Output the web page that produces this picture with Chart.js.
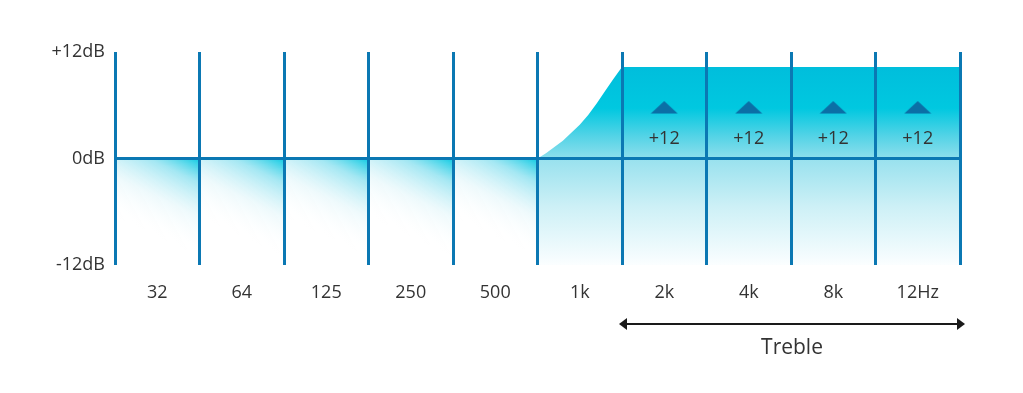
<!DOCTYPE html>
<html>
<head>
<meta charset="utf-8">
<script src="https://cdn.jsdelivr.net/npm/chart.js@4.4.1/dist/chart.umd.min.js"></script>
<style>
    html, body { margin: 0; background: #fff; }
    #wrap { width: 1023px; height: 393px; }
</style>
</head>
<body>
<div id="wrap"><canvas id="eqChart"></canvas></div>
<script>
const bands = ['32', '64', '125', '250', '500', '1k', '2k', '4k', '8k', '12Hz'];
const yTicks = [-12, 0, 12];
const yTickLabels = ['-12dB', '0dB', '+12dB'];

// response curve, x in band units (0 = left edge of "32", 10 = right edge of "12Hz")
const curveX = [0, 1, 2, 3, 4, 5, 5.1, 5.2, 5.3, 5.4, 5.5, 5.6, 5.7, 5.8, 5.9, 6, 7, 8, 9, 10];
const curveY = [0, 0, 0, 0, 0, 0, 0.6, 1.3, 2.0, 2.9, 3.8, 4.9, 6.2, 7.6, 9.0, 10.3, 10.3, 10.3, 10.3, 10.3];

// lower shading per band
const lowerRange = [[-12, 0], [-12, 0], [-12, 0], [-12, 0], [-12, 0], [-12, 0], [-12, 0], [-12, 0], [-12, 0], [-12, 0]];

// boost markers
const boostBands = ['2k', '4k', '8k', '12Hz'];
const boostLevel = 5.8;
const boostLabels = ['+12', '+12', '+12', '+12'];
const boostLabelLevel = 2.3;

const trebleFrom = '2k';
const trebleTo = '12Hz';
const trebleLabel = 'Treble';

const lineColor = '#0b78b3';
const textColor = '#333333';
const fontFamily = '"Open Sans", "Noto Sans", sans-serif';

const triangle = document.createElement('canvas');
triangle.width = 28;
triangle.height = 14;
const tctx = triangle.getContext('2d');
tctx.fillStyle = '#0b6fa6';
tctx.beginPath();
tctx.moveTo(14, 1);
tctx.lineTo(27.5, 13.5);
tctx.lineTo(0.5, 13.5);
tctx.closePath();
tctx.fill();

const plateau = Math.max(...curveY);

const upperFill = (context) => {
    const chart = context.chart;
    if (!chart.chartArea) return null;
    const y = chart.scales.y;
    const g = chart.ctx.createLinearGradient(0, y.getPixelForValue(plateau), 0, y.getPixelForValue(0));
    g.addColorStop(0, '#00bedc');
    g.addColorStop(0.45, '#00c8e0');
    g.addColorStop(0.75, '#52d3e6');
    g.addColorStop(1, '#8edfec');
    return g;
};

const lowerFill = (context) => {
    const chart = context.chart;
    if (!chart.chartArea) return null;
    const x = chart.scales.x;
    const y = chart.scales.y;
    const i = context.dataIndex;
    const half = (x.getPixelForValue(1) - x.getPixelForValue(0)) / 2;
    const left = x.getPixelForValue(i) - half;
    const right = x.getPixelForValue(i) + half;
    const top = y.getPixelForValue(0);
    const bottom = y.getPixelForValue(-12);
    let g;
    if (i < bands.indexOf('1k')) {
        g = chart.ctx.createLinearGradient(right, top, right - (right - left) * 0.45, top + (bottom - top) * 0.75);
        g.addColorStop(0, 'rgba(0,200,226,0.95)');
        g.addColorStop(0.25, 'rgba(90,212,233,0.55)');
        g.addColorStop(0.6, 'rgba(200,238,245,0.3)');
        g.addColorStop(1, 'rgba(255,255,255,0)');
    } else {
        g = chart.ctx.createLinearGradient(0, top, 0, bottom);
        g.addColorStop(0, '#98e1ee');
        g.addColorStop(0.45, '#cdf0f6');
        g.addColorStop(1, '#fbfeff');
    }
    return g;
};

const boostText = {
    id: 'boostText',
    afterDatasetsDraw(chart) {
        const ctx = chart.ctx;
        const meta = chart.getDatasetMeta(2);
        const yPx = chart.scales.y.getPixelForValue(boostLabelLevel);
        ctx.save();
        ctx.font = '18px ' + fontFamily;
        ctx.fillStyle = textColor;
        ctx.textAlign = 'center';
        ctx.textBaseline = 'middle';
        meta.data.forEach((pt, i) => ctx.fillText(boostLabels[i], pt.x, yPx + 1));
        ctx.restore();
    }
};

const trebleArrow = {
    id: 'trebleArrow',
    afterDraw(chart) {
        const ctx = chart.ctx;
        const x = chart.scales.x;
        const half = (x.getPixelForValue(1) - x.getPixelForValue(0)) / 2;
        const x0 = x.getPixelForValue(bands.indexOf(trebleFrom)) - half - 3;
        const x1 = x.getPixelForValue(bands.indexOf(trebleTo)) + half + 5;
        const yA = chart.chartArea.bottom + 59;
        ctx.save();
        ctx.strokeStyle = '#1a1a1a';
        ctx.fillStyle = '#1a1a1a';
        ctx.lineWidth = 2;
        ctx.beginPath();
        ctx.moveTo(x0 + 4, yA);
        ctx.lineTo(x1 - 4, yA);
        ctx.stroke();
        ctx.beginPath();
        ctx.moveTo(x0, yA);
        ctx.lineTo(x0 + 8, yA - 6);
        ctx.lineTo(x0 + 8, yA + 6);
        ctx.closePath();
        ctx.fill();
        ctx.beginPath();
        ctx.moveTo(x1, yA);
        ctx.lineTo(x1 - 8, yA - 6);
        ctx.lineTo(x1 - 8, yA + 6);
        ctx.closePath();
        ctx.fill();
        ctx.font = '21px ' + fontFamily;
        ctx.fillStyle = textColor;
        ctx.textAlign = 'center';
        ctx.textBaseline = 'middle';
        ctx.fillText(trebleLabel, (x0 + x1) / 2, yA + 24);
        ctx.restore();
    }
};

new Chart(document.getElementById('eqChart'), {
    type: 'bar',
    data: {
        labels: bands,
        datasets: [
            {
                type: 'line',
                xAxisID: 'xd',
                data: curveX.map((v, i) => ({ x: v, y: curveY[i] })),
                borderWidth: 0,
                borderColor: 'transparent',
                pointRadius: 0,
                tension: 0,
                fill: 'origin',
                backgroundColor: upperFill,
                order: 1
            },
            {
                data: lowerRange,
                backgroundColor: lowerFill,
                borderWidth: 0,
                barPercentage: 1,
                categoryPercentage: 1,
                grouped: false,
                order: 2
            },
            {
                type: 'line',
                data: boostBands.map(b => ({ x: b, y: boostLevel })),
                showLine: false,
                pointStyle: triangle,
                pointRadius: 10,
                order: 0
            }
        ]
    },
    options: {
        responsive: true,
        maintainAspectRatio: false,
        animation: false,
        layout: { padding: { left: 0, top: 52, right: 63, bottom: 0 } },
        plugins: {
            legend: { display: false },
            tooltip: { enabled: false }
        },
        scales: {
            x: {
                offset: true,
                grid: { offset: true, color: lineColor, lineWidth: 3, drawTicks: false, z: 1 },
                border: { display: false },
                ticks: { color: textColor, font: { family: fontFamily, size: 18 }, padding: 17 },
                afterFit: (scale) => { scale.height = 128; }
            },
            xd: {
                type: 'linear',
                min: 0,
                max: 10,
                offset: false,
                display: false
            },
            y: {
                min: -12,
                max: 12,
                afterBuildTicks: (scale) => { scale.ticks = yTicks.map(v => ({ value: v })); },
                grid: {
                    color: (c) => (c.tick && c.tick.value === 0 ? lineColor : 'transparent'),
                    lineWidth: 3,
                    drawTicks: false,
                    z: 1
                },
                border: { display: false },
                ticks: {
                    color: textColor,
                    font: { family: fontFamily, size: 18 },
                    padding: 10,
                    callback: (v) => yTickLabels[yTicks.indexOf(v)]
                },
                afterFit: (scale) => { scale.width = 115; }
            }
        }
    },
    plugins: [boostText, trebleArrow]
});
</script>
</body>
</html>
